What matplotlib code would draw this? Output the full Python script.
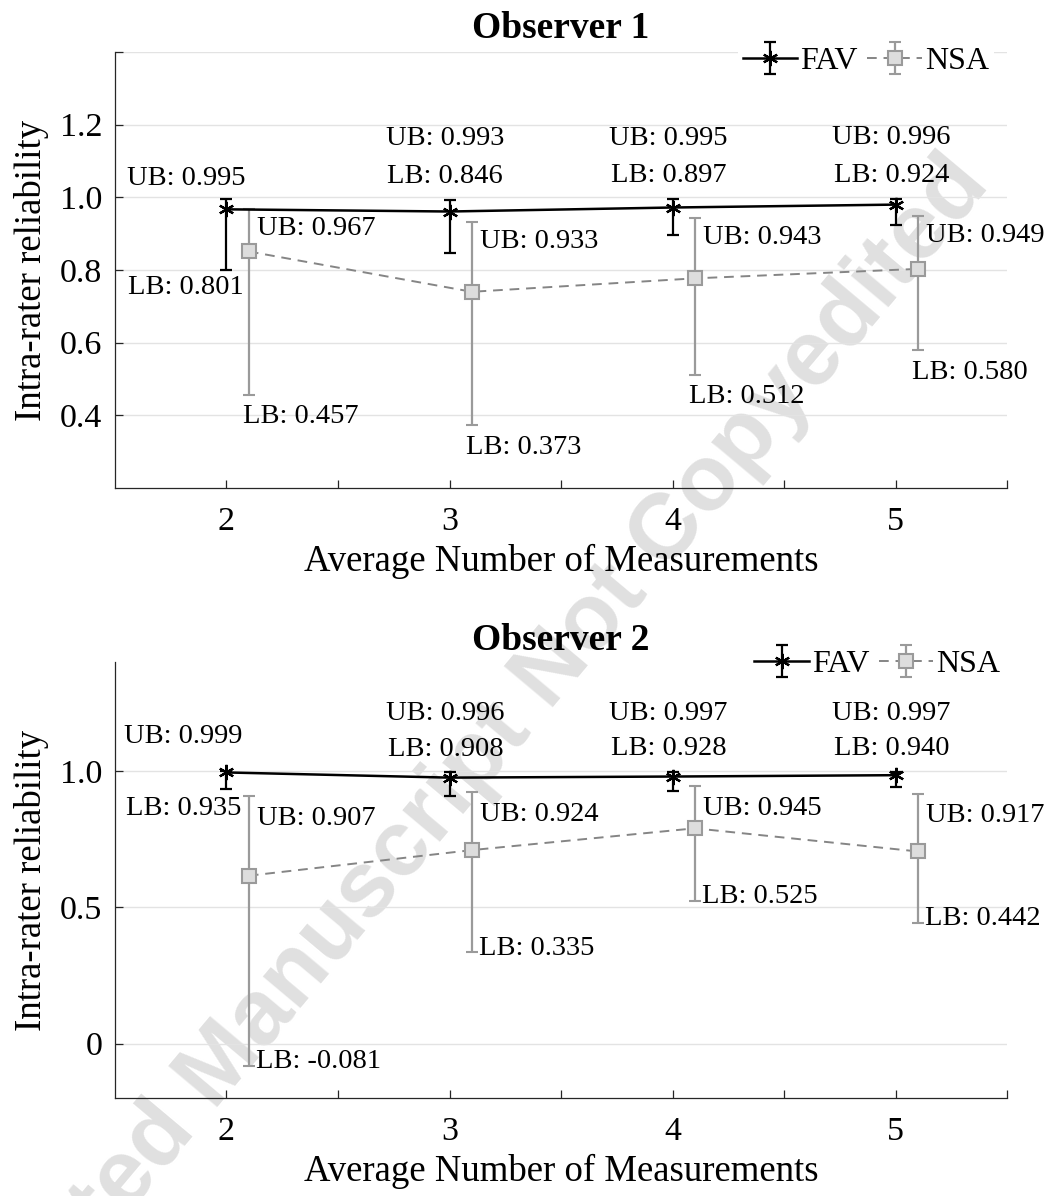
import numpy as np
import matplotlib.pyplot as plt

plt.rcParams['font.family'] = ['Liberation Serif', 'DejaVu Serif']

# x positions (average number of measurements)
n_meas = [2, 3, 4, 5]

# Observer 1
obs1_fav = [0.967, 0.961, 0.972, 0.980]
obs1_fav_lb = [0.801, 0.846, 0.897, 0.924]
obs1_fav_ub = [0.995, 0.993, 0.995, 0.996]
obs1_nsa = [0.851, 0.740, 0.777, 0.803]
obs1_nsa_lb = [0.457, 0.373, 0.512, 0.580]
obs1_nsa_ub = [0.967, 0.933, 0.943, 0.949]

# Observer 2
obs2_fav = [0.995, 0.976, 0.980, 0.985]
obs2_fav_lb = [0.935, 0.908, 0.928, 0.940]
obs2_fav_ub = [0.999, 0.996, 0.997, 0.997]
obs2_nsa = [0.616, 0.710, 0.790, 0.705]
obs2_nsa_lb = [-0.081, 0.335, 0.525, 0.442]
obs2_nsa_ub = [0.907, 0.924, 0.945, 0.917]

GRAY_E = '#9a9a9a'
GRAY_L = '#858585'
FS_TXT = 20.5


def draw_panel(ax, title, fav, fav_lb, fav_ub, nsa, nsa_lb, nsa_ub, offs,
               ylim, yticks, yticklabels, leg_anchor, title_pad):
    x = np.array(n_meas, dtype=float)
    xs = x + 0.1
    fav = np.array(fav); nsa = np.array(nsa)
    fav_err = [fav - np.array(fav_lb), np.array(fav_ub) - fav]
    nsa_err = [nsa - np.array(nsa_lb), np.array(nsa_ub) - nsa]

    h1 = ax.errorbar(x, fav, yerr=fav_err, color='black', lw=1.8,
                     marker=(6, 2, 0), ms=11, mew=1.6, capsize=4.5,
                     elinewidth=1.6, capthick=1.6, zorder=4)
    h2 = ax.errorbar(xs, nsa, yerr=nsa_err, color=GRAY_L, lw=1.4,
                     ecolor=GRAY_E, elinewidth=1.6, capthick=1.6, capsize=4.5,
                     marker='s', ms=9.5, mfc='#dddddd', mec=GRAY_E, mew=1.5,
                     zorder=3)
    h2.lines[0].set_dashes((5, 3.5))

    # annotations
    for i in range(len(x)):
        if i == 0:
            ax.annotate(f'UB: {fav_ub[i]:.3f}', (x[i], fav_ub[i]),
                        xytext=(offs['f0x'], offs['f0ub']), textcoords='offset points',
                        ha='center', va='center', fontsize=FS_TXT)
            ax.annotate(f'LB: {fav_lb[i]:.3f}', (x[i], fav_lb[i]),
                        xytext=(offs['f0x'], offs['f0lb']), textcoords='offset points',
                        ha='center', va='center', fontsize=FS_TXT)
        else:
            ax.annotate(f'UB: {fav_ub[i]:.3f}', (x[i], fav_ub[i]),
                        xytext=(-3, offs['fub']), textcoords='offset points',
                        ha='center', va='center', fontsize=FS_TXT)
            ax.annotate(f'LB: {fav_lb[i]:.3f}', (x[i], fav_ub[i]),
                        xytext=(-3, offs['flb']), textcoords='offset points',
                        ha='center', va='center', fontsize=FS_TXT)
        ax.annotate(f'UB: {nsa_ub[i]:.3f}', (xs[i], nsa_ub[i]),
                    xytext=(6, offs['nub']), textcoords='offset points',
                    ha='left', va='center', fontsize=FS_TXT)
        ax.annotate(f'LB: {nsa_lb[i]:.3f}', (xs[i], nsa_lb[i]),
                    xytext=(offs['nlbx'], offs['nlb']), textcoords='offset points',
                    ha='left', va='center', fontsize=FS_TXT)

    ax.set_xlim(1.5, 5.5)
    ax.set_ylim(*ylim)
    ax.set_xticks(np.arange(2, 5.51, 0.5))
    ax.set_xticklabels(['2', '', '3', '', '4', '', '5', ''])
    ax.set_yticks(yticks)
    ax.set_yticklabels(yticklabels)
    ax.tick_params(direction='in', length=6, width=0.9, color='#262626',
                   labelsize=24.5)
    ax.tick_params(axis='x', pad=13)
    ax.tick_params(axis='y', pad=9)
    ax.yaxis.grid(True, color='#e3e3e3', lw=1.0)
    ax.set_axisbelow(True)
    for s in ['top', 'right']:
        ax.spines[s].set_visible(False)
    for s in ['left', 'bottom']:
        ax.spines[s].set_color('#262626')
        ax.spines[s].set_linewidth(0.9)
    ax.patch.set_alpha(0)

    ax.set_xlabel('Average Number of Measurements', fontsize=26.5, labelpad=5)
    ax.set_ylabel('Intra-rater reliability', fontsize=26.5, labelpad=8)
    ax.set_title(title, fontsize=27, fontweight='bold', pad=title_pad)

    leg = ax.legend([h1, h2], ['FAV', 'NSA'], ncol=2, loc='center right',
                    bbox_to_anchor=leg_anchor, fontsize=23, frameon=True,
                    handlelength=1.7, handletextpad=0.1, columnspacing=0.3,
                    borderpad=0.15, borderaxespad=0)
    leg.get_frame().set_edgecolor('none')
    leg.get_frame().set_facecolor('white')
    leg.get_frame().set_alpha(1)


fig = plt.figure(figsize=(10.52, 11.96), dpi=100)
ax1 = fig.add_axes([0.1093, 0.592, 0.848, 0.3645])
ax2 = fig.add_axes([0.1093, 0.0819, 0.848, 0.3645])

offs1 = dict(f0x=-29, f0ub=15, f0lb=-13, fub=44, flb=17, nub=-14, nlb=-16, nlbx=-4)
offs2 = dict(f0x=-31, f0ub=25, f0lb=-14, fub=42, flb=16.5, nub=-16, nlb=3, nlbx=5)

draw_panel(ax1, 'Observer 1', obs1_fav, obs1_fav_lb, obs1_fav_ub,
           obs1_nsa, obs1_nsa_lb, obs1_nsa_ub, offs1,
           (0.2, 1.4), [0.4, 0.6, 0.8, 1.0, 1.2, 1.4],
           ['0.4', '0.6', '0.8', '1.0', '1.2', ''], (0.985, 0.978), 10)
draw_panel(ax2, 'Observer 2', obs2_fav, obs2_fav_lb, obs2_fav_ub,
           obs2_nsa, obs2_nsa_lb, obs2_nsa_ub, offs2,
           (-0.2, 1.4), [0, 0.5, 1.0], ['0', '0.5', '1.0'], (0.998, 0.995), 9)

# watermark behind the axes
fig.text(0.925, 0.858, 'Accepted Manuscript Not Copyedited', fontsize=67,
         fontweight='bold', family='Liberation Sans', color='#e0e0e0',
         rotation=50, rotation_mode='anchor', ha='right', va='center',
         zorder=-1)

fig.savefig('out.png', dpi=100, facecolor='white')
